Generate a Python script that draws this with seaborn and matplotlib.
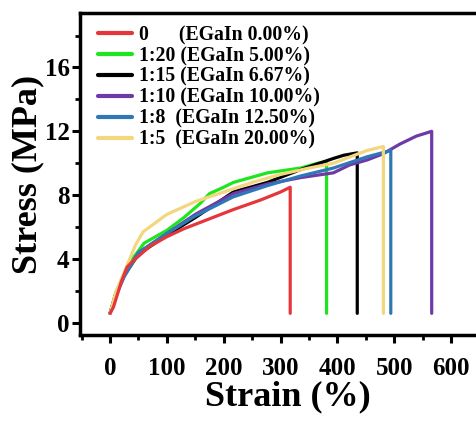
import pandas as pd
import matplotlib
matplotlib.use("Agg")
import matplotlib.pyplot as plt
import seaborn as sns
from matplotlib.ticker import MultipleLocator

sns.set_theme(style="ticks")
plt.rcParams['font.family'] = ['Liberation Serif', 'DejaVu Serif']
plt.rcParams['font.weight'] = 'bold'
plt.rcParams['text.color'] = 'black'
plt.rcParams['axes.labelcolor'] = 'black'

# stress-strain curves (strain %, stress MPa)
labels = ['0      (EGaIn 0.00%)', '1:20 (EGaIn 5.00%)', '1:15 (EGaIn 6.67%)',
          '1:10 (EGaIn 10.00%)', '1:8  (EGaIn 12.50%)', '1:5  (EGaIn 20.00%)']
colors = ['#e5363b', '#1ee61e', '#000000', '#6f3aa5', '#2f78b8', '#f4d67e']

strain_0 = [0, 6, 20, 30, 41, 70, 100, 130, 159, 217, 265, 300, 317, 317]
stress_0 = [0.6, 1.0, 2.6, 3.5, 3.9, 4.8, 5.4, 5.9, 6.3, 7.1, 7.7, 8.2, 8.5, 0.6]

strain_5 = [0, 10, 20, 35, 60, 100, 130, 159, 175, 200, 217, 277, 335, 365, 381, 381]
stress_5 = [0.6, 1.9, 2.7, 3.8, 5.0, 5.8, 6.6, 7.5, 8.1, 8.5, 8.8, 9.4, 9.7, 10.0, 10.1, 0.6]

strain_667 = [0, 10, 25, 50, 100, 150, 217, 277, 335, 393, 411, 435, 435]
stress_667 = [0.6, 1.8, 3.0, 4.3, 5.5, 6.6, 8.2, 8.8, 9.6, 10.3, 10.5, 10.65, 0.6]

strain_10 = [0, 10, 25, 50, 100, 150, 217, 277, 335, 393, 422, 452, 481, 510, 539, 566, 566]
stress_10 = [0.6, 1.8, 3.0, 4.4, 5.6, 6.8, 8.1, 8.7, 9.1, 9.4, 9.9, 10.2, 10.6, 11.2, 11.7, 12.0, 0.6]

strain_125 = [0, 10, 25, 50, 100, 150, 217, 277, 335, 393, 452, 494, 494]
stress_125 = [0.6, 1.7, 2.9, 4.4, 5.6, 6.7, 7.9, 8.6, 9.2, 9.7, 10.4, 10.8, 0.6]

strain_20 = [0, 10, 25, 45, 58, 100, 150, 200, 250, 300, 350, 393, 452, 481, 481]
stress_20 = [0.6, 1.9, 3.2, 4.9, 5.7, 6.8, 7.6, 8.2, 8.8, 9.3, 9.7, 10.0, 10.8, 11.05, 0.6]

strains = [strain_0, strain_5, strain_667, strain_10, strain_125, strain_20]
stresses = [stress_0, stress_5, stress_667, stress_10, stress_125, stress_20]

frames = []
for lab, x, y in zip(labels, strains, stresses):
    frames.append(pd.DataFrame({'strain': x, 'stress': y, 'sample': lab}))
df = pd.concat(frames, ignore_index=True)

fig = plt.figure(figsize=(4.76, 4.25), dpi=100)
ax = fig.add_axes([0.168, 0.212, 0.875, 0.757])

sns.lineplot(data=df, x='strain', y='stress', hue='sample', palette=colors,
             estimator=None, sort=False, linewidth=2.3, ax=ax)
# pure sample curve sits on top in the original
ax.lines[0].set_zorder(3)

ax.set_xlim(-53, 680)
ax.set_ylim(-0.75, 19.4)
ax.xaxis.set_major_locator(MultipleLocator(100))
ax.xaxis.set_minor_locator(MultipleLocator(50))
ax.yaxis.set_major_locator(MultipleLocator(4))
ax.yaxis.set_minor_locator(MultipleLocator(2))

for s in ax.spines.values():
    s.set_linewidth(2.5)
    s.set_color('black')
ax.tick_params(which='major', direction='out', length=6, width=2.2, colors='black',
               labelsize=18)
ax.tick_params(which='minor', direction='out', length=3.5, width=2, colors='black')
ax.tick_params(axis='x', which='major', pad=10)
ax.tick_params(axis='y', which='major', pad=1.5)
for t in ax.get_xticklabels() + ax.get_yticklabels():
    t.set_fontweight('bold')

ax.set_xlabel('Strain (%)', fontsize=26, fontweight='bold', labelpad=0)
ax.set_ylabel('Stress (MPa)', fontsize=26, fontweight='bold', labelpad=0)

leg = ax.legend(loc='upper left', frameon=False, fontsize=14.2, handlelength=1.7,
                handletextpad=0.4, labelspacing=0.05, borderaxespad=0.2,
                bbox_to_anchor=(0.015, 1.0))
for t in leg.get_texts():
    t.set_fontweight('bold')
for h in leg.get_lines():
    h.set_linewidth(3)

fig.savefig('out.png', dpi=100)
